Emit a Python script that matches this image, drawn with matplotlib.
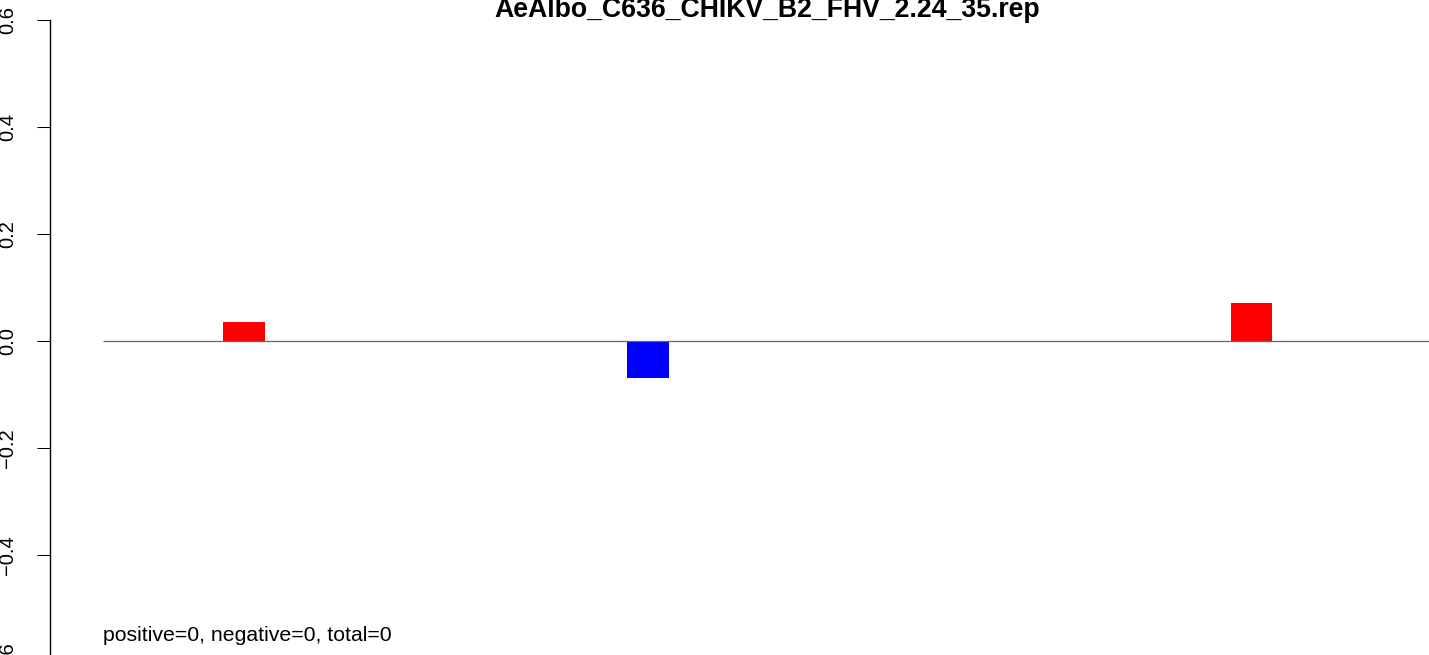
import matplotlib
matplotlib.use("Agg")
import matplotlib.pyplot as plt

plt.rcParams['font.family'] = ['Liberation Sans', 'DejaVu Sans']

# data
title = "AeAlbo_C636_CHIKV_B2_FHV_2.24_35.rep"
seq_start = 0
seq_end = 1000
positions = [106, 410, 864]
values = [0.035, -0.069, 0.071]
bar_width = 31
y_ticks = [-0.6, -0.4, -0.2, 0.0, 0.2, 0.4, 0.6]
y_ticklabels = ["\u22120.6", "\u22120.4", "\u22120.2", "0.0", "0.2", "0.4", "0.6"]
summary = "positive=0, negative=0, total=0"

W, H = 1429, 655
fig = plt.figure(figsize=(W / 100, H / 100), dpi=100)
# plot region in pixels: x 50..1485, y 20..662 (partly off the figure, as in the original)
ax = fig.add_axes([50 / W, (H - 662) / H, 1435 / W, 642 / H])

colors = ["red" if v > 0 else "blue" for v in values]
ax.bar(positions, values, width=bar_width, color=colors, linewidth=0)
ax.hlines(0, seq_start, seq_end, color="#666666", linewidth=0.9)

pad = 0.04 * (seq_end - seq_start)
ax.set_xlim(seq_start - pad, seq_end + pad)
ax.set_ylim(-0.6, 0.6)

for s in ["top", "right", "bottom"]:
    ax.spines[s].set_visible(False)
ax.spines["left"].set_linewidth(1.0)
ax.set_xticks([])
ax.set_yticks(y_ticks)
ax.set_yticklabels(y_ticklabels, rotation=90, va="center", fontsize=14.5)
ax.tick_params(axis="y", direction="out", length=9.4, width=0.75, pad=14)

ax.text(seq_start, -0.55, summary, fontsize=15.3, ha="left", va="center")
fig.text(767.5 / W, (H - 17) / H, title, fontsize=19.2, fontweight="bold",
         ha="center", va="baseline")

fig.savefig("out.png", dpi=100)
